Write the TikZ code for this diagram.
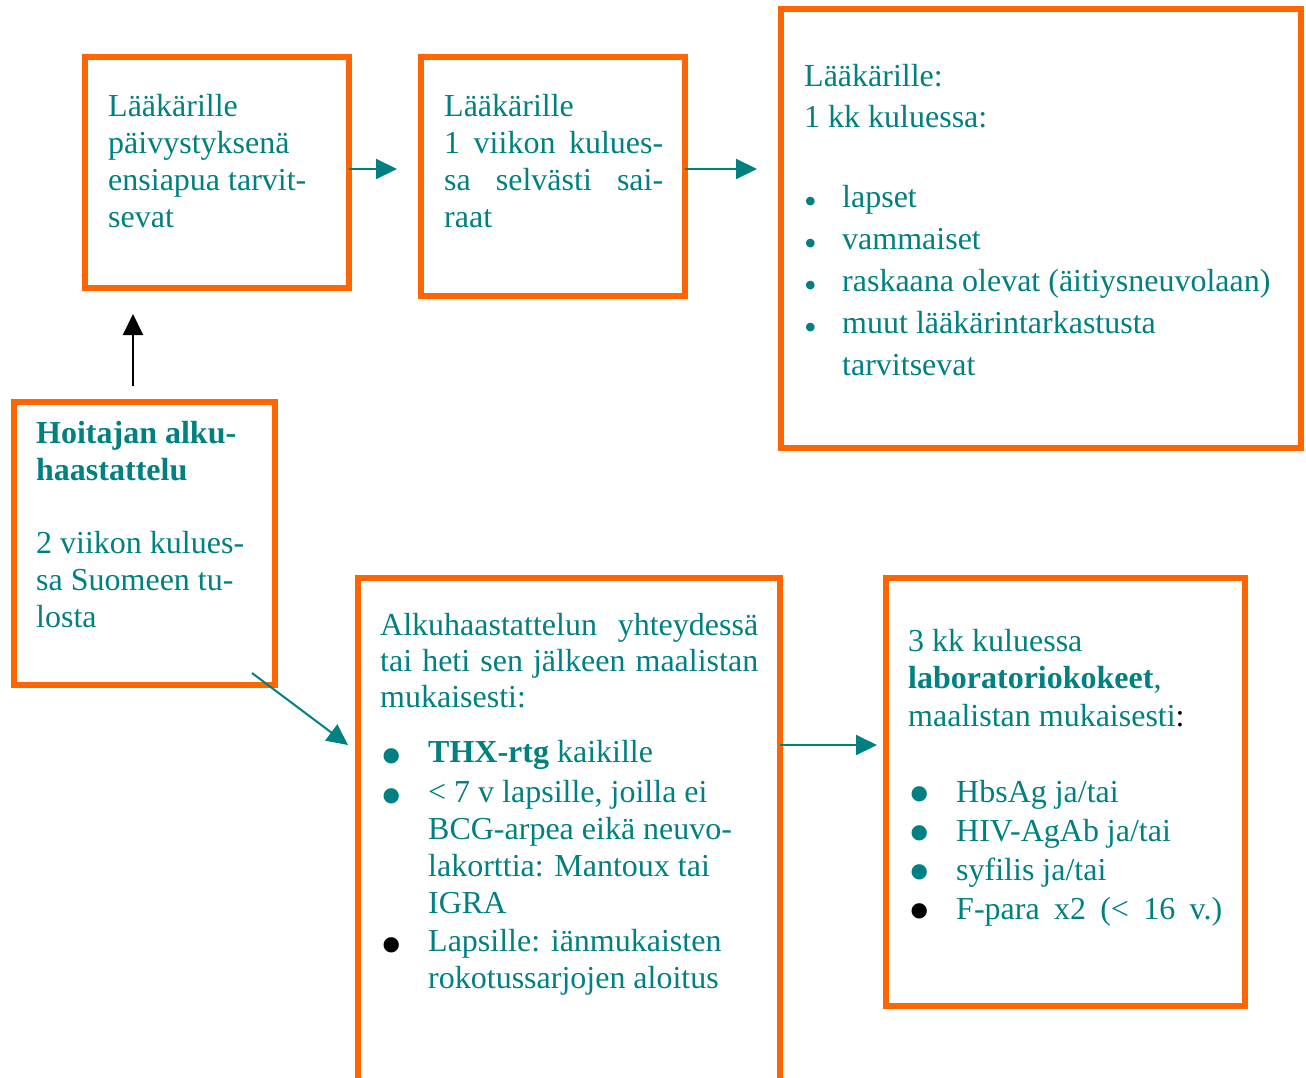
\documentclass[tikz,border=0pt]{standalone}
\usepackage{fontspec}
\setmainfont{Liberation Serif}
\usepackage{tikz}
\usetikzlibrary{arrows.meta}
\definecolor{boxCol}{RGB}{255,102,0}
\definecolor{txtCol}{RGB}{0,128,128}
\tikzset{myBox/.style={draw=boxCol, line width=6pt, inner sep=0pt, outer sep=0pt, anchor=north west}}
\tikzset{myText/.style={text=txtCol, inner sep=0pt, anchor=north west, align=left, font=\fontsize{32}{37}\selectfont}}
\tikzset{myArrow/.style={draw=txtCol, line width=2pt, -{Triangle[length=21pt,width=20pt]}}}
\tikzset{myUpArrow/.style={draw=black, line width=2pt, -{Triangle[length=21pt,width=20pt]}}}
\newcommand{\bigBul}[2]{\makebox[48pt][l]{\textcolor{#1}{\raisebox{#2}[0pt][0pt]{\fontsize{64}{64}\selectfont\textbullet}}}}
\newcommand{\smallBul}{\makebox[38pt][l]{\raisebox{-6pt}[0pt][0pt]{\fontsize{36}{36}\selectfont\textbullet}}}

\begin{document}
\begin{tikzpicture}[x=1pt, y=-1pt]

	\useasboundingbox (0,0) rectangle (1306,1077);

	%boxes
	\node[myBox, minimum width=264pt, minimum height=231pt](box1) at (85,57){};
	\node[myBox, minimum width=264pt, minimum height=239pt](box2) at (421,57){};
	\node[myBox, minimum width=520pt, minimum height=439pt](box3) at (781,9){};
	\node[myBox, minimum width=261pt, minimum height=283pt](box4) at (14,402){};
	\node[myBox, minimum width=422pt, minimum height=540pt](box5) at (358,578){};
	\node[myBox, minimum width=359pt, minimum height=428pt](box6) at (886,578){};

	%texts
	\node[myText](txt1) at (108,90){\strut L\"a\"ak\"arille\\
		p\"aivystyksen\"a\\
		ensiapua tarvit-\\
		sevat};
	\node[myText](txt2) at (444,90){\strut L\"a\"ak\"arille\\
		\makebox[219pt][s]{1 viikon kulues-}\\
		\makebox[219pt][s]{sa selv\"asti sai-}\\
		raat};
	\node[myText](txt3) at (804,60){\strut L\"a\"ak\"arille:\\[4pt]
		1 kk kuluessa:\\[43pt]
		\smallBul lapset\\[5pt]
		\smallBul vammaiset\\[5pt]
		\smallBul raskaana olevat (\"aitiysneuvolaan)\\[5pt]
		\smallBul muut l\"a\"ak\"arintarkastusta\\[5pt]
		\hspace*{38pt}tarvitsevat};
	\node[myText](txt4) at (36,417){\strut\textbf{Hoitajan alku-}\\
		\textbf{haastattelu}\\[36pt]
		2 viikon kulues-\\
		sa Suomeen tu-\\
		losta};
	\node[myText](txt5) at (380,609){\strut\makebox[378pt][s]{Alkuhaastattelun  yhteydess\"a}\\[-1pt]
		\makebox[378pt][s]{tai heti sen j\"alkeen maalistan}\\[-1pt]
		mukaisesti:\\[18pt]
		\bigBul{txtCol}{-15pt}\textbf{THX-rtg} kaikille\\[3pt]
		\bigBul{txtCol}{-15pt}< 7 v lapsille, joilla ei\\
		\hspace*{48pt}BCG-arpea eik\"a neuvo-\\
		\hspace*{48pt}lakorttia: Mantoux tai\\
		\hspace*{48pt}IGRA\\[1pt]
		\bigBul{black}{-15pt}Lapsille: i\"anmukaisten\\
		\hspace*{48pt}rokotussarjojen aloitus};
	\node[myText](txt6) at (908,625){\strut 3 kk kuluessa\\
		\textbf{laboratoriokokeet},\\[1pt]
		maalistan mukaisesti\textcolor{black}{:}\\[39pt]
		\bigBul{txtCol}{-13pt}HbsAg ja/tai\\[2pt]
		\bigBul{txtCol}{-13pt}HIV-AgAb ja/tai\\[2pt]
		\bigBul{txtCol}{-13pt}syfilis ja/tai\\[2pt]
		\bigBul{black}{-13pt}\makebox[266pt][s]{F-para  x2  (<  16  v.)}};

	%connectors
	\draw[myArrow, shorten >=24pt](box1.east |- 0,169) -- (box2.west |- 0,169);
	\draw[myArrow, shorten >=24pt](box2.east |- 0,169) -- (box3.west |- 0,169);
	\draw[myArrow, shorten >=9pt](box5.east |- 0,745) -- (box6.west |- 0,745);
	\draw[myUpArrow, shorten <=16pt, shorten >=26pt](box4.north -| 133,0) -- (box1.south -| 133,0);
	\coordinate (diagStart) at (252,673);
	\coordinate (diagEnd) at (348,745);
	\draw[myArrow](diagStart) -- (diagEnd);

\end{tikzpicture}
\end{document}
